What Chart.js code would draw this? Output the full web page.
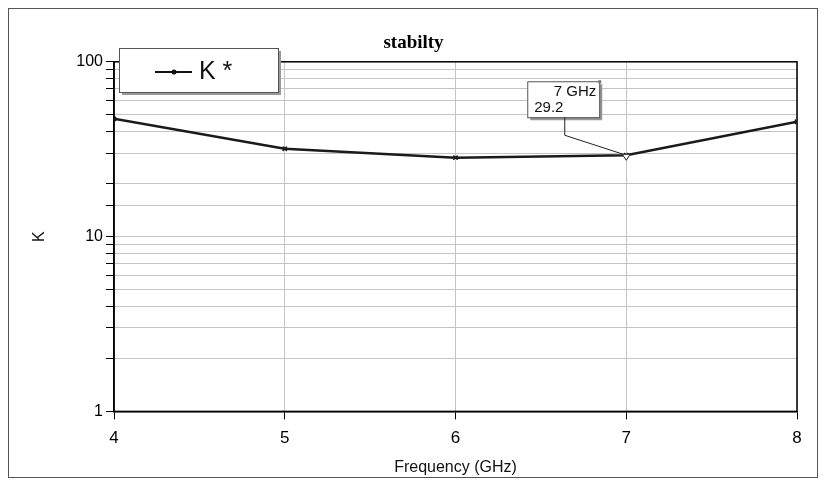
<!DOCTYPE html>
<html>
<head>
<meta charset="utf-8">
<script src="https://cdn.jsdelivr.net/npm/chart.js@4/dist/chart.umd.min.js"></script>
<style>
html,body{margin:0;padding:0;background:#fff;}
#wrap{position:relative;width:826px;height:488px;}
</style>
</head>
<body>
<div id="wrap"><canvas id="c" width="826" height="488"></canvas></div>
<script>
const freqGHz = [4, 5, 6, 7, 8];
const kValues = [47.2, 31.8, 28.3, 29.2, 45.4];
const yTickLabels = [1, 10, 100];
const xTickLabels = [4, 5, 6, 7, 8];
const seriesName = 'K *';
const markerFreq = 7;
const markerValue = 29.2;
const markerLabels = ['7 GHz', '29.2'];

const FONT = '"Liberation Sans Narrow", "Liberation Sans", Arial, sans-serif';

const decorPlugin = {
  id: 'decor',
  beforeDraw(chart) {
    const ctx = chart.ctx;
    ctx.save();
    ctx.fillStyle = '#fff';
    ctx.fillRect(0, 0, chart.width, chart.height);
    ctx.strokeStyle = '#555';
    ctx.lineWidth = 1;
    ctx.strokeRect(8.5, 8.5, 809, 469);
    ctx.restore();
  },
  beforeDatasetsDraw(chart) {
    const a = chart.chartArea, ctx = chart.ctx;
    ctx.save();
    ctx.strokeStyle = '#000';
    ctx.lineWidth = 1.5;
    ctx.strokeRect(a.left, a.top, a.right - a.left, a.bottom - a.top);
    ctx.restore();
  },
  afterDraw(chart) {
    const ctx = chart.ctx;
    const xs = chart.scales.x, ys = chart.scales.y;
    ctx.save();
    // Legend box
    const lx = 119, ly = 48, lw = 159, lh = 44;
    ctx.fillStyle = '#999';
    ctx.fillRect(lx + 3, ly + 3, lw, lh);
    ctx.fillStyle = '#fff';
    ctx.fillRect(lx, ly, lw, lh);
    ctx.strokeStyle = '#555';
    ctx.lineWidth = 1;
    ctx.strokeRect(lx + 0.5, ly + 0.5, lw, lh);
    ctx.strokeStyle = '#111';
    ctx.lineWidth = 2;
    ctx.beginPath(); ctx.moveTo(155, 72); ctx.lineTo(192, 72); ctx.stroke();
    ctx.fillStyle = '#111';
    ctx.beginPath(); ctx.arc(174, 72, 2.5, 0, Math.PI * 2); ctx.fill();
    ctx.font = '25px "Liberation Sans", Arial, sans-serif';
    ctx.textBaseline = 'middle';
    ctx.textAlign = 'left';
    ctx.fillText(seriesName, 199, 72);

    // Marker annotation
    const px = xs.getPixelForValue(markerFreq), py = ys.getPixelForValue(markerValue);
    const bx = px - 99, by = py - 74, bw = 72, bh = 36;
    ctx.fillStyle = '#999';
    ctx.fillRect(bx + 3, by + 3, bw, bh);
    ctx.fillStyle = '#fff';
    ctx.fillRect(bx, by, bw, bh);
    ctx.strokeStyle = '#555';
    ctx.lineWidth = 1;
    ctx.strokeRect(bx + 0.5, by + 0.5, bw, bh);
    ctx.fillStyle = '#777';
    ctx.fillRect(bx + bw - 1, by - 1, 3, 3);
    ctx.fillStyle = '#111';
    ctx.font = '15px ' + FONT;
    ctx.textAlign = 'right';
    ctx.fillText(markerLabels[0], bx + bw - 3, by + 11);
    ctx.textAlign = 'left';
    ctx.fillText(markerLabels[1], bx + 7, by + 27);
    ctx.strokeStyle = '#222';
    ctx.lineWidth = 1;
    ctx.beginPath();
    ctx.moveTo(px - 61.5, by + bh);
    ctx.lineTo(px - 61.5, py - 20);
    ctx.lineTo(px, py);
    ctx.stroke();
    // inverted triangle
    ctx.beginPath();
    ctx.moveTo(px - 4, py - 1);
    ctx.lineTo(px + 4, py - 1);
    ctx.lineTo(px, py + 5);
    ctx.closePath();
    ctx.fillStyle = '#fff';
    ctx.fill();
    ctx.stroke();
    ctx.restore();
  }
};

new Chart(document.getElementById('c'), {
  type: 'line',
  data: {
    datasets: [{
      label: seriesName,
      data: freqGHz.map((f, i) => ({ x: f, y: kValues[i] })),
      borderColor: '#1a1a1a',
      backgroundColor: '#1a1a1a',
      borderWidth: 2.5,
      pointStyle: 'crossRot',
      pointRadius: 3,
      pointBorderWidth: 1.5,
      tension: 0
    }]
  },
  plugins: [decorPlugin],
  options: {
    responsive: false,
    animation: false,
    layout: { padding: { left: 30, right: 29, top: 31, bottom: 11 } },
    plugins: {
      legend: { display: false },
      tooltip: { enabled: false },
      title: {
        display: true,
        text: 'stabilty',
        color: '#000',
        font: { family: '"Liberation Serif", "Times New Roman", serif', size: 19, weight: 'bold' },
        padding: { top: 1, bottom: 7 }
      }
    },
    scales: {
      x: {
        type: 'linear',
        min: 4, max: 8,
        afterBuildTicks(s) { s.ticks = xTickLabels.map(v => ({ value: v })); },
        ticks: { color: '#000', font: { family: FONT, size: 17 }, padding: 9, autoSkip: false,
                 callback: v => String(v) },
        grid: { color: '#c4c4c4', tickColor: '#000', tickLength: 8, lineWidth: 1 },
        border: { display: true, color: '#000', width: 1.5 },
        title: { display: true, text: 'Frequency (GHz)', color: '#111',
                 font: { family: FONT, size: 16 }, padding: { top: 0, bottom: 0 } }
      },
      y: {
        type: 'logarithmic',
        min: 1, max: 100,
        afterFit(s) { s.width = 84; },
        ticks: { color: '#000', font: { family: FONT, size: 16 }, padding: 3, autoSkip: false,
                 callback: v => (yTickLabels.includes(v) ? String(v) : '') },
        grid: { color: '#c4c4c4', tickColor: '#000', tickLength: 8, lineWidth: 1 },
        border: { display: true, color: '#000', width: 1.5 },
        title: { display: true, text: 'K', color: '#111',
                 font: { family: FONT, size: 16 }, padding: { top: 0, bottom: 0 } }
      }
    }
  }
});
</script>
</body>
</html>
